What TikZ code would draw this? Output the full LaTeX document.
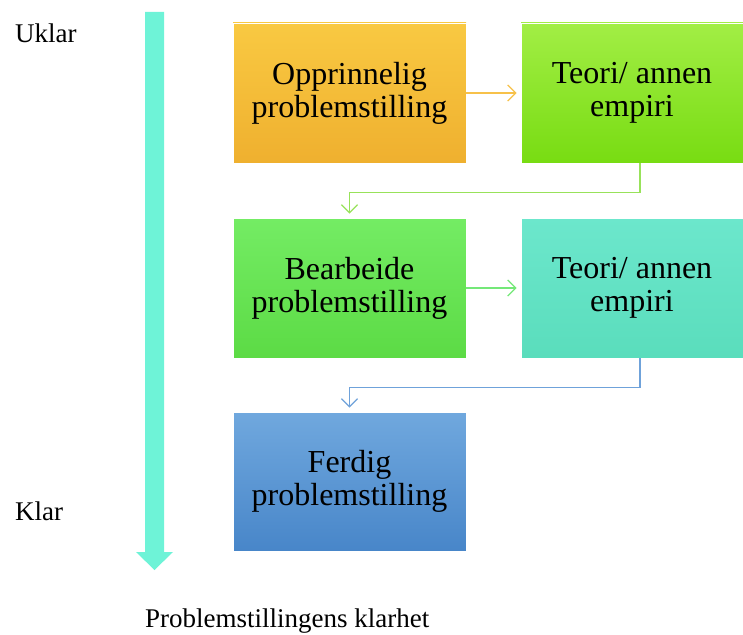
\documentclass[tikz,border=0pt]{standalone}
\usepackage{fontspec}
\setmainfont{Liberation Serif}
\usetikzlibrary{arrows.meta}
\definecolor{orangeTop}{HTML}{F9C942}
\definecolor{orangeBot}{HTML}{EFB02F}
\definecolor{limeTop}{HTML}{A2EE45}
\definecolor{limeBot}{HTML}{78DC12}
\definecolor{greenTop}{HTML}{74EC64}
\definecolor{greenBot}{HTML}{5CDB45}
\definecolor{tealTop}{HTML}{6CE7CC}
\definecolor{tealBot}{HTML}{5ADDBC}
\definecolor{blueTop}{HTML}{70A8DE}
\definecolor{blueBot}{HTML}{4886C9}
\definecolor{axisCol}{HTML}{6EF3D7}
\definecolor{lnOrange}{HTML}{F7C14A}
\definecolor{lnLime}{HTML}{98E25A}
\definecolor{lnGreen}{HTML}{74E878}
\definecolor{lnBlue}{HTML}{6FA2DA}
\tikzset{
  box/.style={draw=white, line width=0.8pt, minimum height=140pt, inner sep=0pt,
    align=center, font=\fontsize{32}{33}\selectfont},
  wide/.style={minimum width=233pt},
  narrow/.style={minimum width=222pt},
  link/.style={line width=1.3pt, -{Straight Barb[length=8pt,width=16pt]}, shorten >=4pt},
  lbl/.style={font=\fontsize{27}{29}\selectfont, inner sep=0pt}
}
\begin{document}
\begin{tikzpicture}[x=1pt,y=-1pt]
\useasboundingbox (0,0) rectangle (743,634);
% clarity axis
\fill[axisCol] (145,12) -- (164,12) -- (164,552) -- (173,552) -- (154.5,570)
  -- (136,552) -- (145,552) -- cycle;
\node[lbl, anchor=base west] (uklar) at (15,43) {Uklar};
\node[lbl, anchor=base west] (klar) at (15,520) {Klar};
\node[lbl, anchor=base west] (axislabel) at (145,627) {Problemstillingens klarhet};
% process boxes
\node[box, wide, top color=orangeTop, bottom color=orangeBot] (b1) at (349.5,93)
  {Opprinnelig\\problemstilling};
\node[box, narrow, top color=limeTop, bottom color=limeBot] (b2) at (632,93)
  {Teori/ annen\\empiri};
\node[box, wide, top color=greenTop, bottom color=greenBot] (b3) at (349.5,288)
  {Bearbeide\\problemstilling};
\node[box, narrow, top color=tealTop, bottom color=tealBot] (b4) at (632,288)
  {Teori/ annen\\empiri};
\node[box, wide, minimum height=139pt, top color=blueTop, bottom color=blueBot] (b5) at (349.5,481.5)
  {Ferdig\\problemstilling};
% connectors
\draw[link, lnOrange] (b1.east) -- (b2.west);
\draw[link, lnGreen] (b3.east) -- (b4.west);
\draw[link, lnLime] ([xshift=8pt]b2.south) -- ++(0,29) -| (b3.north);
\draw[link, lnBlue] ([xshift=8pt]b4.south) -- ++(0,29) -| (b5.north);
\end{tikzpicture}
\end{document}
